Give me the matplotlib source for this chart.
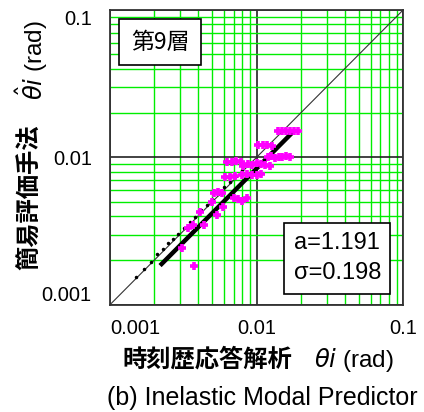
import numpy as np
import matplotlib
matplotlib.use('Agg')
import matplotlib.pyplot as plt

plt.rcParams['font.family'] = ['Liberation Sans', 'Noto Sans CJK JP', 'DejaVu Sans']

# inelastic modal predictor vs time history (9th storey)
mag_x = [0.0141, 0.0150, 0.0160, 0.0170, 0.0180, 0.0192,
         0.0102, 0.0110, 0.0118, 0.0127,
         0.0119, 0.0126, 0.0134, 0.0142, 0.0150, 0.0160, 0.0170,
         0.0081, 0.0087, 0.0093, 0.0100, 0.0107, 0.0115, 0.0123,
         0.0063, 0.0068, 0.0073, 0.0078,
         0.0080, 0.0086, 0.0093, 0.0100, 0.0108,
         0.0061, 0.0066, 0.0071,
         0.0051, 0.0055, 0.0058,
         0.0070, 0.0075, 0.0080, 0.0086,
         0.0050, 0.0059, 0.0041, 0.0054, 0.0044, 0.0037, 0.00342,
         0.0031, 0.00376]
mag_y = [0.0150, 0.0151, 0.0150, 0.0152, 0.0151, 0.0150,
         0.0121, 0.0122, 0.0121, 0.0120,
         0.0100, 0.0102, 0.0099, 0.0101, 0.0100, 0.0102, 0.0101,
         0.0088, 0.0090, 0.0089, 0.0091, 0.0090, 0.0089, 0.0088,
         0.0093, 0.0093, 0.0094, 0.0093,
         0.0076, 0.0077, 0.0076, 0.0076, 0.0077,
         0.0074, 0.0074, 0.0075,
         0.0057, 0.0058, 0.0057,
         0.0053, 0.0052, 0.0051, 0.0053,
         0.00497, 0.0046, 0.00425, 0.00405, 0.00347, 0.00347, 0.0033,
         0.00243, 0.00184]

blk_x = [0.0015, 0.0017, 0.0019, 0.0021, 0.0023, 0.0025, 0.0027, 0.0029,
         0.0032, 0.0035, 0.0038, 0.0042, 0.0046, 0.0050, 0.0055, 0.0060,
         0.0066, 0.0072, 0.0080, 0.0088]
blk_y = [0.00155, 0.00176, 0.00196, 0.00220, 0.00238, 0.00262, 0.00280, 0.00302,
         0.00330, 0.00366, 0.00392, 0.00440, 0.00475, 0.00522, 0.00568, 0.00625,
         0.00680, 0.00750, 0.00825, 0.00910]

a_fit = 1.191
sigma_fit = 0.198
fit_x = np.array([0.0022, 0.0182])

tick_vals = [0.001, 0.01, 0.1]
tick_labels = ['0.001', '0.01', '0.1']

fig = plt.figure(figsize=(4.24, 4.12), dpi=100)
ax = fig.add_axes([0.259, 0.26, 0.692, 0.716])
ax.set_xscale('log')
ax.set_yscale('log')
ax.set_xlim(0.001, 0.1)
ax.set_ylim(0.001, 0.1)

ax.grid(True, which='minor', color='#00ee00', lw=1.0)
ax.grid(True, which='major', color='#222222', lw=1.2)
ax.set_axisbelow(True)

ax.plot([0.001, 0.1], [0.001, 0.1], color='#333333', lw=0.8)
ax.plot(blk_x, blk_y, ls='none', marker='.', ms=3, color='black')
ax.plot(fit_x, fit_x / a_fit, color='black', lw=3.2, solid_capstyle='butt')
ax.plot(mag_x, mag_y, ls='none', marker='+', ms=5.5, mew=2.6, color='#ff00ff')

tfont = dict(family=['Liberation Sans Narrow', 'Liberation Sans'], size=14.5)
ax.set_xticks(tick_vals)
ax.set_xticklabels(tick_labels, **tfont)
ax.set_yticks(tick_vals)
ax.set_yticklabels(tick_labels, **tfont)
ax.tick_params(which='both', length=0)
ax.tick_params(axis='x', pad=10)
ax.tick_params(axis='y', pad=13)
xl = ax.get_xticklabels()
xl[0].set_ha('left')
yl = ax.get_yticklabels()
yl[0].set_va('bottom')
yl[-1].set_va('top')
for s in ax.spines.values():
    s.set_color('#333333')
    s.set_linewidth(1.3)

ax.text(0.072, 0.89, '第9層', transform=ax.transAxes, fontsize=16.5,
        family=['Noto Sans CJK JP'], va='center', ha='left',
        bbox=dict(boxstyle='square,pad=0.5', fc='white', ec='black', lw=1.2))
ax.text(0.775, 0.158, f'a={a_fit}\nσ={sigma_fit}', transform=ax.transAxes,
        fontsize=17, ha='center', va='center', linespacing=1.45,
        bbox=dict(boxstyle='square,pad=0.4', fc='white', ec='black', lw=1.2))

# axis labels built from pieces (bold japanese + plain units)
fig.text(292 / 424, 1 - 360 / 412, '時刻歴応答解析', family=['Noto Sans CJK JP'],
         fontweight='bold', fontsize=17.5, ha='right', va='center')
fig.text(314 / 424, 1 - 360 / 412, r'$\theta i$ (rad)', fontsize=17.5,
         ha='left', va='center')
fig.text(30 / 424, 1 - 270 / 412, '簡易評価手法', family=['Noto Sans CJK JP'],
         fontweight='bold', fontsize=17.5, rotation=90, ha='center', va='bottom')
fig.text(32 / 424, 1 - 100 / 412, r'$\hat{\theta} i$ (rad)', fontsize=17.5,
         rotation=90, ha='center', va='bottom')
fig.text(262 / 424, 1 - 398 / 412, '(b) Inelastic Modal Predictor', fontsize=18,
         ha='center', va='center')

fig.savefig('out.png', dpi=100)
